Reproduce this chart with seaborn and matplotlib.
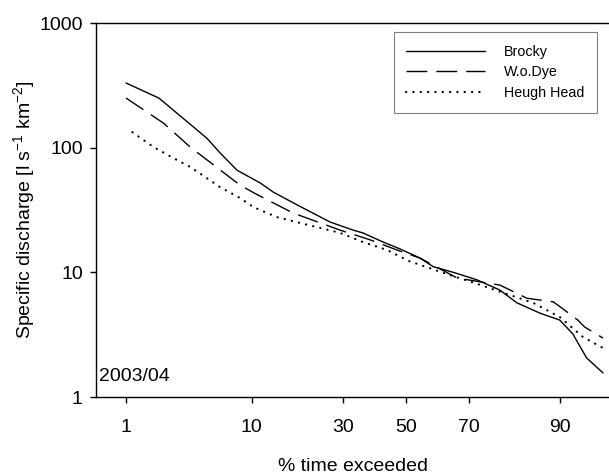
import numpy as np
import matplotlib
matplotlib.use('Agg')
import matplotlib.pyplot as plt
import seaborn as sns
from statistics import NormalDist

# flow duration curves, 2003/04 (percent exceeded, specific discharge)
brocky_pct = [1.0, 2.0, 4.9, 6.1, 8.0, 11.3, 13.5, 18.3, 26.4, 33, 36, 42.4, 48, 54.6,
              58.9, 65.8, 72.2, 78.2, 82.1, 86.7, 89.9, 91.7, 92.8, 93.3, 94.9]
brocky_q = [330, 250, 119, 91, 66, 52, 44, 34.7, 25.3, 21.8, 20.7, 17.5, 15.4, 13.0,
            11.1, 9.9, 8.7, 7.2, 5.7, 4.7, 4.14, 3.2, 2.38, 2.06, 1.56]

wodye_pct = [1.0, 2.2, 3.65, 5.5, 8.4, 10.8, 17.4, 23.8, 29.2, 38.3, 47, 54.6,
             66.4, 78.2, 84.2, 88.9, 90.2, 92.3, 93.1, 94.9]
wodye_q = [250, 157, 101, 72.6, 50, 42, 29.9, 24.9, 21.8, 18.2, 15.1, 13.0,
           9.0, 7.9, 6.2, 5.8, 5.17, 4.14, 3.64, 2.97]

heugh_pct = [1.15, 1.8, 2.76, 3.65, 4.77, 6.1, 8.4, 10.2, 14.2, 18.9, 23.8, 29.2,
             36, 43.7, 51, 64.2, 71.6, 78.2, 85.4, 89.9, 92.9, 94.9]
heugh_q = [133, 101, 81, 70, 58, 48.3, 39.4, 33.4, 27.7, 24.9, 22.7, 20.7,
           17.5, 15.1, 12.3, 9.5, 8.2, 7.0, 5.7, 4.38, 3.03, 2.47]

x_ticks = [1, 10, 30, 50, 70, 90]
y_ticks = [1, 10, 100, 1000]

nd = NormalDist()
_ppf = np.vectorize(nd.inv_cdf, otypes=[float])
_cdf = np.vectorize(nd.cdf, otypes=[float])


def prob_fwd(p):
    p = np.clip(np.asarray(p, dtype=float) / 100.0, 1e-9, 1 - 1e-9)
    return _ppf(p)


def prob_inv(z):
    return _cdf(np.asarray(z, dtype=float)) * 100.0


sns.set_style('ticks')
plt.rcParams['font.family'] = ['Liberation Sans', 'DejaVu Sans']
plt.rcParams['text.color'] = 'black'
plt.rcParams['axes.labelcolor'] = 'black'
plt.rcParams['xtick.color'] = 'black'
plt.rcParams['ytick.color'] = 'black'

fig = plt.figure(figsize=(6.09, 4.74), dpi=100)
ax = fig.add_axes([96 / 609, 1 - 397 / 474, (609 - 96) / 609, (397 - 23) / 474])

sns.lineplot(x=brocky_pct, y=brocky_q, ax=ax, color='black', lw=1.0,
             label='Brocky')
sns.lineplot(x=wodye_pct, y=wodye_q, ax=ax, color='black', lw=1.0,
             linestyle=(0, (15, 6.5)), label='W.o.Dye')
sns.lineplot(x=heugh_pct, y=heugh_q, ax=ax, color='black', lw=1.6,
             linestyle=(0, (0.1, 3.2)), dash_capstyle='round', label='Heugh Head')

ax.set_xscale('function', functions=(prob_fwd, prob_inv))
ax.set_yscale('log')
ax.set_xlim(0.5, 95.4)
ax.set_ylim(1, 1000)
ax.set_xticks(x_ticks)
ax.set_xticklabels([str(t) for t in x_ticks])
ax.set_yticks(y_ticks)
ax.set_yticklabels([str(t) for t in y_ticks])
ax.minorticks_off()
ax.tick_params(axis='both', direction='out', length=4.5, width=1, color='black',
               labelcolor='black', labelsize=14)
ax.tick_params(axis='y', pad=5)
ax.tick_params(axis='x', pad=11)

for side in ['left', 'bottom', 'top']:
    ax.spines[side].set_color('black')
    ax.spines[side].set_linewidth(1.0)
ax.spines['right'].set_visible(False)

ax.set_xlabel('% time exceeded', fontsize=14, labelpad=16.5, color='black')
ax.set_ylabel('Specific discharge [l s$^{\\mathregular{-1}}$ km$^{\\mathregular{-2}}$]',
              fontsize=14, labelpad=1, color='black')

ax.text(0.006, 0.055, '2003/04', transform=ax.transAxes, fontsize=14,
        ha='left', va='center', color='black')

leg = ax.legend(loc='upper right', bbox_to_anchor=(0.9766, 0.976), fontsize=10.3,
                handlelength=5.5, handletextpad=1.3, borderpad=0.9,
                labelspacing=0.45, borderaxespad=0, fancybox=False, framealpha=1)
leg.get_frame().set_edgecolor('#808080')
leg.get_frame().set_linewidth(0.8)
for t in leg.get_texts():
    t.set_color('black')

fig.savefig('out.png', dpi=100)
